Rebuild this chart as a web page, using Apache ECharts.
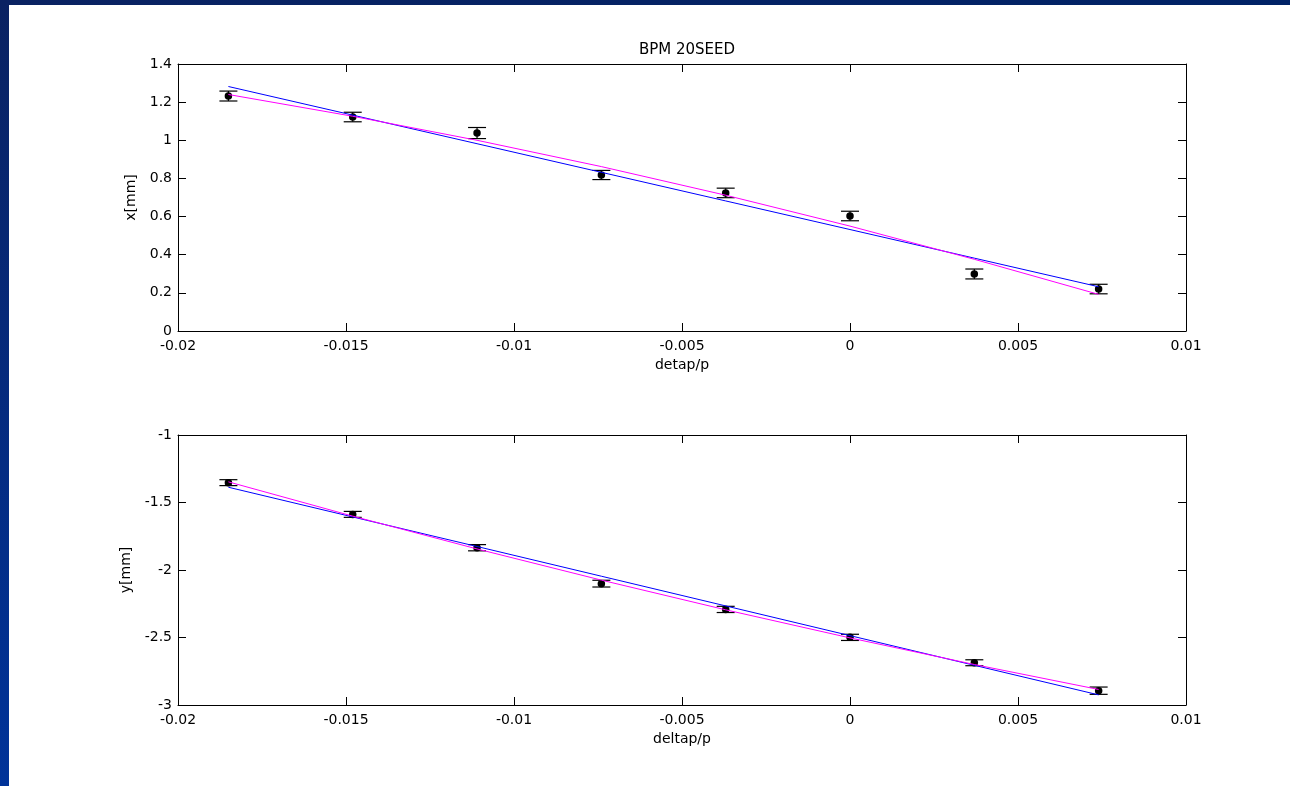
<!DOCTYPE html>
<html>
<head>
<meta charset="utf-8">
<script src="https://cdn.jsdelivr.net/npm/echarts@6/dist/echarts.min.js"></script>
<style>
html,body{margin:0;padding:0;background:#fff;}
#chart{width:1290px;height:786px;}
</style>
</head>
<body>
<div id="chart"></div>
<script>
// ---- data ----
const deltaP = [-0.0185, -0.0148, -0.0111, -0.0074, -0.0037, 0, 0.0037, 0.0074];

const xMeas = [1.232, 1.122, 1.038, 0.818, 0.724, 0.603, 0.299, 0.220];
const xErr  = [0.026, 0.025, 0.029, 0.024, 0.025, 0.025, 0.026, 0.025];
const xLinFit  = [1.282, 1.132, 0.982, 0.832, 0.682, 0.532, 0.382, 0.232];
const xQuadFit = [1.240, 1.126, 1.000, 0.862, 0.712, 0.550, 0.376, 0.192];

const yMeas = [-1.353, -1.588, -1.835, -2.101, -2.292, -2.499, -2.687, -2.894];
const yErr  = [0.022, 0.022, 0.023, 0.025, 0.023, 0.023, 0.022, 0.027];
const yLinFit  = [-1.387, -1.607, -1.826, -2.046, -2.266, -2.486, -2.706, -2.925];
const yQuadFit = [-1.347, -1.601, -1.844, -2.075, -2.295, -2.503, -2.700, -2.885];

const titleText = 'BPM 20SEED';
const xNameTop = 'detap/p';
const xNameBottom = 'deltap/p';
const yNameTop = 'x[mm]';
const yNameBottom = 'y[mm]';

// ---- chart ----
const FONT = 'DejaVu Sans';
const chart = echarts.init(document.getElementById('chart'), null, {renderer: 'canvas'});

function fmt(v){ return String(parseFloat(v.toFixed(4))); }

function xAx(gridIndex, pos, name, showLabels){
  return {
    type: 'value', gridIndex: gridIndex, position: pos,
    min: -0.02, max: 0.01, interval: 0.005,
    name: showLabels ? name : '', nameLocation: 'middle', nameGap: 27,
    nameTextStyle: {color: '#000', fontFamily: FONT, fontSize: 14},
    axisLine: {show: true, onZero: false, lineStyle: {color: '#000', width: 1}},
    axisTick: {show: true, inside: true, length: 8, lineStyle: {color: '#000', width: 1}},
    axisLabel: {show: showLabels, color: '#000', fontFamily: FONT, fontSize: 14, margin: 8, formatter: fmt},
    splitLine: {show: false}
  };
}
function yAx(gridIndex, pos, name, showLabels, min, max, interval){
  return {
    type: 'value', gridIndex: gridIndex, position: pos,
    min: min, max: max, interval: interval,
    name: showLabels ? name : '', nameLocation: 'middle', nameGap: 40, nameRotate: 90,
    nameTextStyle: {color: '#000', fontFamily: FONT, fontSize: 14},
    axisLine: {show: true, onZero: false, lineStyle: {color: '#000', width: 1}},
    axisTick: {show: true, inside: true, length: 8, lineStyle: {color: '#000', width: 1}},
    axisLabel: {show: showLabels, color: '#000', fontFamily: FONT, fontSize: 14, margin: 6, formatter: fmt},
    splitLine: {show: false}
  };
}

function errSeries(xi, yi, vals, errs){
  const data = deltaP.map((d, i) => [d, vals[i] - errs[i], vals[i] + errs[i]]);
  return {
    type: 'custom', xAxisIndex: xi, yAxisIndex: yi, z: 2,
    data: data,
    renderItem: function(params, api){
      const lo = api.coord([api.value(0), api.value(1)]);
      const hi = api.coord([api.value(0), api.value(2)]);
      const w = 9;
      const st = {stroke: '#000', lineWidth: 1.2, opacity: 1};
      return {type: 'group', children: [
        {type: 'line', shape: {x1: lo[0], y1: lo[1], x2: hi[0], y2: hi[1]}, style: st},
        {type: 'line', shape: {x1: lo[0]-w, y1: lo[1], x2: lo[0]+w, y2: lo[1]}, style: st},
        {type: 'line', shape: {x1: hi[0]-w, y1: hi[1], x2: hi[0]+w, y2: hi[1]}, style: st}
      ]};
    },
    silent: true
  };
}
function pts(xi, yi, vals){
  return {type: 'scatter', xAxisIndex: xi, yAxisIndex: yi, z: 3,
    data: deltaP.map((d, i) => [d, vals[i]]),
    symbol: 'circle', symbolSize: 7.5, itemStyle: {color: '#000', opacity: 1}, silent: true};
}
function fitLine(xi, yi, vals, color){
  return {type: 'line', xAxisIndex: xi, yAxisIndex: yi, z: 4,
    data: deltaP.map((d, i) => [d, vals[i]]),
    symbol: 'none', lineStyle: {color: color, width: 1, opacity: 1}, silent: true, animation: false};
}

const option = {
  animation: false,
  backgroundColor: '#fff',
  title: {text: titleText, left: 682, top: 38, textAlign: 'center',
    textStyle: {fontFamily: FONT, fontSize: 15, fontWeight: 'normal', color: '#000'}},
  graphic: [
    {type: 'rect', left: 0, top: 0, shape: {width: 1290, height: 5}, z: 100,
      style: {fill: {type: 'linear', x: 0, y: 0, x2: 1, y2: 0, colorStops: [
        {offset: 0, color: '#0a2262'}, {offset: 1, color: '#002266'}]}}},
    {type: 'rect', left: 0, top: 0, shape: {width: 9, height: 786}, z: 100,
      style: {fill: {type: 'linear', x: 0, y: 0, x2: 0, y2: 1, colorStops: [
        {offset: 0, color: '#0a2262'}, {offset: 1, color: '#003399'}]}}}
  ],
  grid: [
    {left: 178, top: 64, width: 1008, height: 267},
    {left: 178, top: 435, width: 1008, height: 270}
  ],
  xAxis: [
    xAx(0, 'bottom', xNameTop, true),
    xAx(0, 'top', '', false),
    xAx(1, 'bottom', xNameBottom, true),
    xAx(1, 'top', '', false)
  ],
  yAxis: [
    yAx(0, 'left', yNameTop, true, 0, 1.4, 0.2),
    yAx(0, 'right', '', false, 0, 1.4, 0.2),
    yAx(1, 'left', yNameBottom, true, -3, -1, 0.5),
    yAx(1, 'right', '', false, -3, -1, 0.5)
  ],
  series: [
    errSeries(0, 0, xMeas, xErr),
    pts(0, 0, xMeas),
    fitLine(0, 0, xLinFit, '#0000ff'),
    fitLine(0, 0, xQuadFit, '#ff00ff'),
    errSeries(2, 2, yMeas, yErr),
    pts(2, 2, yMeas),
    fitLine(2, 2, yLinFit, '#0000ff'),
    fitLine(2, 2, yQuadFit, '#ff00ff')
  ]
};
chart.setOption(option);
</script>
</body>
</html>
